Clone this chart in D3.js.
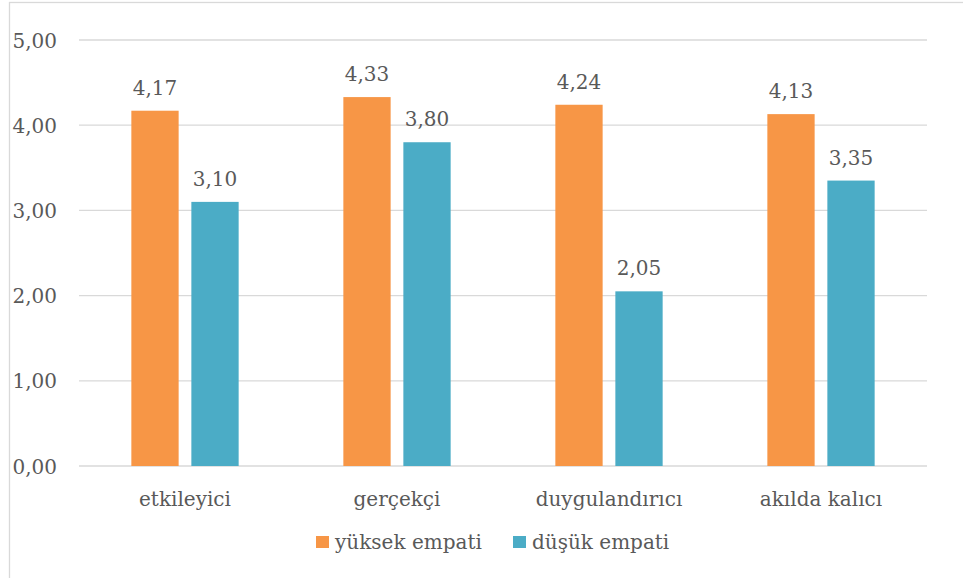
<!DOCTYPE html>
<html>
<head>
<meta charset="utf-8">
<script src="https://cdn.jsdelivr.net/npm/d3@7"></script>
<style>
  body { margin: 0; background: #fff; }
  text { font-family: "DejaVu Serif", serif; fill: #595959; }
</style>
</head>
<body>
<svg id="chart" width="963" height="578"></svg>
<script>
const categories = ["etkileyici", "gerçekçi", "duygulandırıcı", "akılda kalıcı"];
const seriesNames = ["yüksek empati", "düşük empati"];
const yuksek = [4.17, 4.33, 4.24, 4.13];
const dusuk = [3.10, 3.80, 2.05, 3.35];
const yTicks = [0, 1, 2, 3, 4, 5];

const colors = ["#F79646", "#4BACC6"];
const fmt = d3.formatLocale({decimal: ",", thousands: ".", grouping: [3], currency: ["", ""]}).format(".2f");

const svg = d3.select("#chart");

// outer frame
svg.append("rect").attr("x", 9.5).attr("y", 2.5).attr("width", 1000).attr("height", 700)
    .attr("fill", "none").attr("stroke", "#d9d9d9").attr("stroke-width", 1.3);

const plotLeft = 79, plotRight = 927, plotTop = 40, plotBottom = 466;

const x = d3.scaleBand().domain(categories).range([plotLeft, plotRight]);
const xInner = d3.scaleBand().domain(seriesNames).range([0, 107.3]).paddingInner(0.212);
const y = d3.scaleLinear().domain([0, 5]).range([plotBottom, plotTop]);

// gridlines
svg.append("g").selectAll("line").data(yTicks).join("line")
    .attr("x1", plotLeft).attr("x2", plotRight)
    .attr("y1", d => y(d)).attr("y2", d => y(d))
    .attr("stroke", "#d9d9d9").attr("stroke-width", 1.3);

// y labels
svg.append("g").selectAll("text").data(yTicks).join("text")
    .attr("x", 57).attr("y", d => y(d) + 7.5)
    .attr("text-anchor", "end").style("font-size", "20px")
    .text(d => fmt(d));

const rows = categories.map((c, i) => ({cat: c, vals: [yuksek[i], dusuk[i]]}));

const groups = svg.append("g").selectAll("g").data(rows).join("g")
    .attr("transform", d => `translate(${x(d.cat) + x.bandwidth() / 2 - 53.65},0)`);

groups.selectAll("rect").data(d => d.vals.map((v, j) => ({s: seriesNames[j], v, j}))).join("rect")
    .attr("x", d => xInner(d.s)).attr("width", xInner.bandwidth())
    .attr("y", d => y(d.v)).attr("height", d => y(0) - y(d.v))
    .attr("fill", d => colors[d.j]);

groups.selectAll("text").data(d => d.vals.map((v, j) => ({s: seriesNames[j], v, j}))).join("text")
    .attr("x", d => xInner(d.s) + xInner.bandwidth() / 2)
    .attr("y", d => y(d.v) - 16)
    .attr("text-anchor", "middle").style("font-size", "20px")
    .text(d => fmt(d.v));

// category labels
svg.append("g").selectAll("text").data(categories).join("text")
    .attr("x", d => x(d) + x.bandwidth() / 2).attr("y", 506)
    .attr("text-anchor", "middle").style("font-size", "20px")
    .text(d => d);

// legend
const legendX = [316, 513];
const lg = svg.append("g").selectAll("g").data(seriesNames).join("g")
    .attr("transform", (d, i) => `translate(${legendX[i]},536)`);
lg.append("rect").attr("width", 13).attr("height", 12).attr("fill", (d, i) => colors[i]);
lg.append("text").attr("x", 19).attr("y", 13).style("font-size", "20px").text(d => d);
</script>
</body>
</html>
